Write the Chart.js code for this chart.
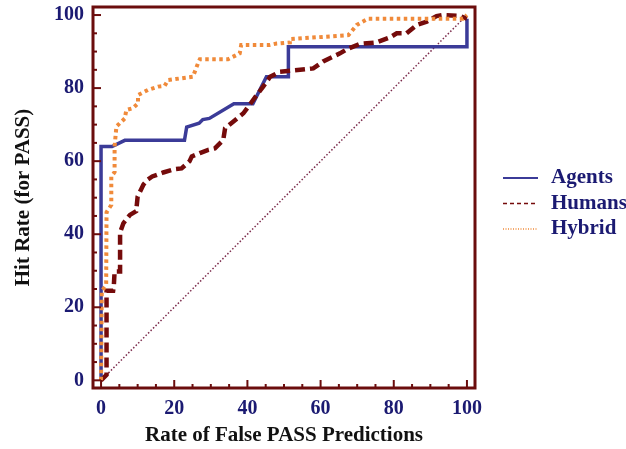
<!DOCTYPE html>
<html>
<head>
<meta charset="utf-8">
<script src="https://cdn.jsdelivr.net/npm/chart.js@4"></script>
<style>
  html, body { margin: 0; padding: 0; background: #fff; }
  #wrap { width: 626px; height: 449px; position: relative; }
</style>
</head>
<body>
<div id="wrap"><canvas id="rocChart"></canvas></div>
<script>
// tick labels
const xTicks = [0, 20, 40, 60, 80, 100];
const yTicks = [0, 20, 40, 60, 80, 100];

// Agents curve
const agentsX = [0, 0, 3, 6.5, 22.8, 23.4, 26.8, 27.8, 29.6, 36.3, 41.5, 45.2, 51.2, 51.2, 100, 100];
const agentsY = [0, 64, 64, 65.7, 65.7, 69.3, 70.4, 71.4, 71.7, 75.7, 75.7, 83.1, 83.1, 91.3, 91.3, 99];

// Humans curve
const humansX = [0, 1.5, 1.5, 3.3, 3.5, 3.7, 5.2, 5.2, 6.1, 7.9, 9.6, 10, 11.6, 12.8, 14, 17, 20.1, 22, 24.2, 24.8, 27, 29.3, 31.1, 33.4, 33.9, 36.1, 38.9, 41.6, 44.3, 46.2, 48.9, 54.4, 58, 60.7, 65.3, 67.1, 70.8, 75.3, 79, 80.8, 83.5, 86.3, 89, 91.7, 93.5, 98, 100];
const humansY = [0, 1.5, 24.5, 24.5, 26, 29.8, 29.8, 40.5, 43, 45.3, 46.3, 50.3, 53.6, 55, 55.8, 56.9, 57.8, 58, 60, 61.3, 62.2, 63.1, 63.5, 65.8, 69, 70.8, 73.1, 76.8, 80.4, 83.1, 84.5, 85, 85.4, 87.3, 89.5, 90.6, 92.1, 92.5, 93.9, 95, 95, 97.3, 98.2, 99.7, 100, 99.8, 99];

// Hybrid curve
const hybridX = [0, 0.2, 1.4, 1.5, 2.8, 2.8, 3.7, 3.7, 4.2, 6.5, 6.9, 8.7, 10.1, 10.1, 12.8, 15.6, 17.4, 18.3, 25.1, 26.5, 27, 34.7, 37.9, 38.3, 46.1, 48, 51.6, 51.6, 67.6, 69.9, 73, 98.9, 100];
const hybridY = [0, 24.5, 26, 46, 48, 55.8, 57, 64, 69.5, 71.7, 74, 74.5, 75.8, 78.1, 79.5, 80.4, 80.6, 82.2, 83.1, 86.8, 87.9, 87.9, 89.5, 91.8, 91.8, 92.2, 92.5, 93.4, 94.5, 97.3, 99, 99, 100];

// chance line
const diagX = [0, 100];
const diagY = [0, 100];

const frameColor = '#6b0d0d';
const labelColor = '#1b1a72';

function toPoints(xs, ys) {
    return xs.map((x, i) => ({ x: x, y: ys[i] }));
}

// frame + inward tick marks
const framePlugin = {
    id: 'frame',
    afterDatasetsDraw(chart) {
        const ctx = chart.ctx;
        const a = chart.chartArea;
        const sx = chart.scales.x;
        const sy = chart.scales.y;
        ctx.save();
        ctx.strokeStyle = frameColor;
        ctx.lineWidth = 2;
        for (let v = 0; v <= 100; v += 5) {
            const len = v % 20 === 0 ? 8 : 4;
            const px = sx.getPixelForValue(v);
            ctx.beginPath();
            ctx.moveTo(px, a.bottom);
            ctx.lineTo(px, a.bottom - len);
            ctx.stroke();
            const py = sy.getPixelForValue(v);
            ctx.beginPath();
            ctx.moveTo(a.left, py);
            ctx.lineTo(a.left + len, py);
            ctx.stroke();
        }
        ctx.lineWidth = 3;
        ctx.strokeRect(a.left, a.top, a.right - a.left, a.bottom - a.top);
        ctx.restore();
    }
};

// legend on the right
const legendPlugin = {
    id: 'sideLegend',
    afterDraw(chart) {
        const ctx = chart.ctx;
        const items = [
            { ds: chart.data.datasets[0], dash: [], width: 2 },
            { ds: chart.data.datasets[1], dash: [4, 3], width: 1.5 },
            { ds: chart.data.datasets[2], dash: [1, 1.5], width: 1.5 }
        ];
        ctx.save();
        items.forEach((it, i) => {
            const y = 178 + i * 25.5;
            ctx.strokeStyle = it.ds.borderColor;
            ctx.lineWidth = it.width;
            ctx.setLineDash(it.dash);
            ctx.beginPath();
            ctx.moveTo(503, y);
            ctx.lineTo(538, y);
            ctx.stroke();
            ctx.setLineDash([]);
            ctx.fillStyle = labelColor;
            ctx.font = 'bold 21px "Liberation Serif"';
            ctx.textBaseline = 'middle';
            ctx.fillText(it.ds.label, 551, y);
        });
        ctx.restore();
    }
};

// drop the extra room Chart.js keeps for the end tick labels
function noEdgePadding(s) {
    s.paddingTop = 0;
    s.paddingBottom = 0;
    s.paddingLeft = 0;
    s.paddingRight = 0;
}

const ctx = document.getElementById('rocChart').getContext('2d');
const rocChart = new Chart(ctx, {
    type: 'scatter',
    data: {
        datasets: [{
            label: 'Agents',
            data: toPoints(agentsX, agentsY),
            borderColor: '#3b3b98',
            borderWidth: 3.5,
            showLine: true,
            order: 2,
        }, {
            label: 'Humans',
            data: toPoints(humansX, humansY),
            borderColor: '#750b0b',
            borderWidth: 4.5,
            borderDash: [10, 5],
            showLine: true,
            order: 1,
        }, {
            label: 'Hybrid',
            data: toPoints(hybridX, hybridY),
            borderColor: '#f08a3a',
            borderWidth: 4,
            borderDash: [3.5, 3.5],
            showLine: true,
            order: 0,
        }, {
            label: 'chance',
            data: toPoints(diagX, diagY),
            borderColor: '#7b2b4b',
            borderWidth: 1.5,
            borderDash: [1.5, 2],
            showLine: true,
            order: 3,
        }],
    },
    options: {
        responsive: true,
        maintainAspectRatio: false,
        animation: false,
        elements: { point: { radius: 0, hoverRadius: 0 }, line: { tension: 0 } },
        layout: { padding: { top: 7, right: 151, left: 0, bottom: 0 } },
        plugins: { legend: { display: false }, tooltip: { enabled: false } },
        scales: {
            x: {
                type: 'linear',
                min: -2.2,
                max: 102.2,
                afterBuildTicks: s => { s.ticks = xTicks.map(v => ({ value: v })); },
                afterFit: s => { s.height = 61; noEdgePadding(s); },
                grid: { display: false, drawTicks: false },
                border: { display: false },
                ticks: {
                    color: labelColor,
                    padding: 9,
                    maxRotation: 0,
                    font: { family: 'Liberation Serif', weight: 'bold', size: 20 },
                },
                title: {
                    display: true,
                    text: 'Rate of False PASS Predictions',
                    color: '#111',
                    font: { family: 'Liberation Serif', weight: 'bold', size: 21 },
                    padding: { top: 0, bottom: 1 },
                },
            },
            y: {
                type: 'linear',
                min: -2.1,
                max: 102.2,
                afterBuildTicks: s => { s.ticks = yTicks.map(v => ({ value: v })); },
                afterFit: s => { s.width = 93; noEdgePadding(s); },
                grid: { display: false, drawTicks: false },
                border: { display: false },
                ticks: {
                    color: labelColor,
                    padding: 9,
                    font: { family: 'Liberation Serif', weight: 'bold', size: 20 },
                },
                title: {
                    display: true,
                    text: 'Hit Rate (for PASS)',
                    color: '#111',
                    font: { family: 'Liberation Serif', weight: 'bold', size: 21 },
                    padding: { top: 11, bottom: 0 },
                },
            },
        },
    },
    plugins: [framePlugin, legendPlugin],
});
</script>
</body>
</html>
